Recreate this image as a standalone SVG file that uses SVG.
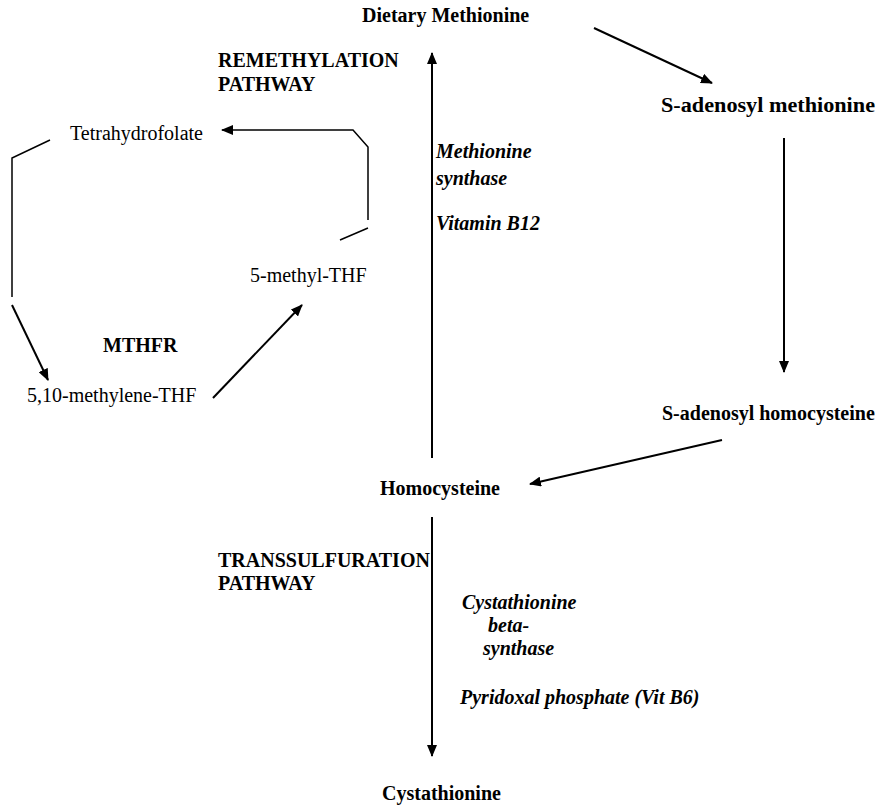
<svg xmlns="http://www.w3.org/2000/svg" width="885" height="808" viewBox="0 0 885 808">
<style>
text{font-family:"Liberation Serif","Times New Roman",serif;font-size:20px;fill:#000}
.b{font-weight:bold}
.bi{font-weight:bold;font-style:italic}
.ln{fill:none;stroke:#000;stroke-width:2}
.thin{fill:none;stroke:#000;stroke-width:1.5}
</style>
<defs>
<marker id="ah" viewBox="0 0 12 10" refX="11" refY="5" markerWidth="12" markerHeight="10" markerUnits="userSpaceOnUse" orient="auto">
<path d="M0,0 L12,5 L0,10 Z" fill="#000"/>
</marker>
</defs>
<rect width="885" height="808" fill="#fff"/>
<g id="connectors">
<line class="ln" x1="432" y1="458" x2="432" y2="53" marker-end="url(#ah)"/>
<line class="ln" x1="594" y1="28" x2="712" y2="83" marker-end="url(#ah)"/>
<line class="ln" x1="784" y1="138" x2="784" y2="372" marker-end="url(#ah)"/>
<line class="ln" x1="722" y1="440" x2="530" y2="484" marker-end="url(#ah)"/>
<line class="ln" x1="432" y1="517" x2="432" y2="756" marker-end="url(#ah)"/>
<polyline class="thin" points="368,220 368,147 353,130 222,130" marker-end="url(#ah)"/>
<line class="thin" x1="340" y1="240" x2="368" y2="228"/>
<polyline class="thin" points="50,140 12,158 12,297"/>
<line class="ln" x1="12" y1="305" x2="48" y2="380" marker-end="url(#ah)"/>
<line class="ln" x1="213" y1="398" x2="302" y2="305" marker-end="url(#ah)"/>
</g>
<g id="dietary-methionine"><text class="b" x="362" y="22">Dietary Methionine</text></g>
<g id="remethylation-label"><text class="b" x="218" y="67">REMETHYLATION</text><text class="b" x="218" y="91">PATHWAY</text></g>
<g id="s-adenosyl-methionine"><text class="b" x="661" y="112" textLength="214" lengthAdjust="spacingAndGlyphs">S-adenosyl methionine</text></g>
<g id="methionine-synthase"><text class="bi" x="436" y="158">Methionine</text><text class="bi" x="436" y="185">synthase</text><text class="bi" x="436" y="230">Vitamin B12</text></g>
<g id="tetrahydrofolate"><text x="70" y="140">Tetrahydrofolate</text></g>
<g id="methyl-thf"><text x="250" y="282">5-methyl-THF</text></g>
<g id="mthfr"><text class="b" x="103" y="352">MTHFR</text></g>
<g id="methylene-thf"><text x="27" y="402">5,10-methylene-THF</text></g>
<g id="s-adenosyl-homocysteine"><text class="b" x="662" y="420">S-adenosyl homocysteine</text></g>
<g id="homocysteine"><text class="b" x="380" y="495">Homocysteine</text></g>
<g id="transsulfuration-label"><text class="b" x="218" y="567">TRANSSULFURATION</text><text class="b" x="218" y="590">PATHWAY</text></g>
<g id="cbs"><text class="bi" x="462" y="609">Cystathionine</text><text class="bi" x="488" y="632">beta-</text><text class="bi" x="483" y="655">synthase</text><text class="bi" x="460" y="704">Pyridoxal phosphate (Vit B6)</text></g>
<g id="cystathionine"><text class="b" x="382" y="800">Cystathionine</text></g>
</svg>
